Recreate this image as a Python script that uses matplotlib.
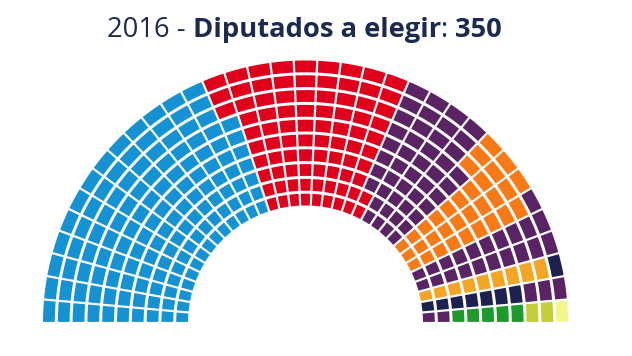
import numpy as np
import matplotlib.pyplot as plt
from matplotlib.patches import Polygon

# Congreso 2016 - seats by list, in the order they are laid out (left to right)
parties = ['PP', 'PSOE', 'Unidos Podemos', "C's", 'En Comu Podem', 'Compromis-Podemos',
           'ERC', 'CDC', 'En Marea', 'PNV', 'EH Bildu', 'CC']
seats = [137, 85, 45, 32, 12, 9, 9, 8, 5, 5, 2, 1]
colors = ['#1592d3', '#e1001b', '#5a2464', '#f77a16', '#5a2464', '#5a2464',
          '#f4a526', '#1c2150', '#5a2464', '#1e9a2d', '#c4cc3a', '#f4f58a']

n_rows = 10
n_cols = 35

W, H = 632, 356
fig = plt.figure(figsize=(W / 100, H / 100), dpi=100)
ax = fig.add_axes([0, 0, 1, 1])
ax.set_xlim(0, W)
ax.set_ylim(0, H)
ax.set_aspect('equal')
ax.axis('off')

cx, cy = 305.5, H - 323.0
r_in, r_out = 117.5, 262.5
gap_r = 3.0      # between rings
gap_t = 2.2      # between seats of a ring
pitch = (r_out - r_in + gap_r) / n_rows
thick = pitch - gap_r
h = gap_t / 2


def seat_poly(a0, a1, r0, r1):
    """ annular sector with constant pixel gap on the radial sides """
    pts = []
    for r, ts in ((r1, np.linspace(0, 1, 12)), (r0, np.linspace(1, 0, 12))):
        b0 = a0 - np.arcsin(h / r)
        b1 = a1 + np.arcsin(h / r)
        for t in ts:
            a = b0 + t * (b1 - b0)
            pts.append((cx + r * np.cos(a), cy + r * np.sin(a)))
    return pts


# one colour per seat, filled column by column (inner ring first)
seat_colors = []
for s, c in zip(seats, colors):
    seat_colors += [c] * s

step = np.pi / n_cols
for k, col in enumerate(seat_colors):
    j = k // n_rows
    i = k % n_rows
    a0 = np.pi - j * step
    a1 = np.pi - (j + 1) * step
    r0 = r_in + i * pitch
    r1 = r0 + thick
    ax.add_patch(Polygon(seat_poly(a0, a1, r0, r1), closed=True, facecolor=col,
                         edgecolor='none'))

# title, mixed normal/bold, sized to the reference width
title_parts = [('2016 - ', 'normal'), ('Diputados a elegir', 'bold'), (': ', 'normal'),
               (str(sum(seats)), 'bold')]
tfont = 'Open Sans'
tcol = '#1b2a4e'
renderer = fig.canvas.get_renderer()


def part_widths(fs):
    ws = []
    for txt, wgt in title_parts:
        t = ax.text(0, 0, txt, fontsize=fs, fontweight=wgt, family=tfont)
        ws.append(t.get_window_extent(renderer).width)
        t.remove()
    return ws


fs = 18
fs = fs * 396 / sum(part_widths(fs))
widths = part_widths(fs)
x = 107
for (txt, wgt), w in zip(title_parts, widths):
    ax.text(x, H - 37, txt, fontsize=fs, fontweight=wgt, color=tcol, family=tfont,
            va='baseline')
    x += w

fig.savefig('out.png', dpi=100)
